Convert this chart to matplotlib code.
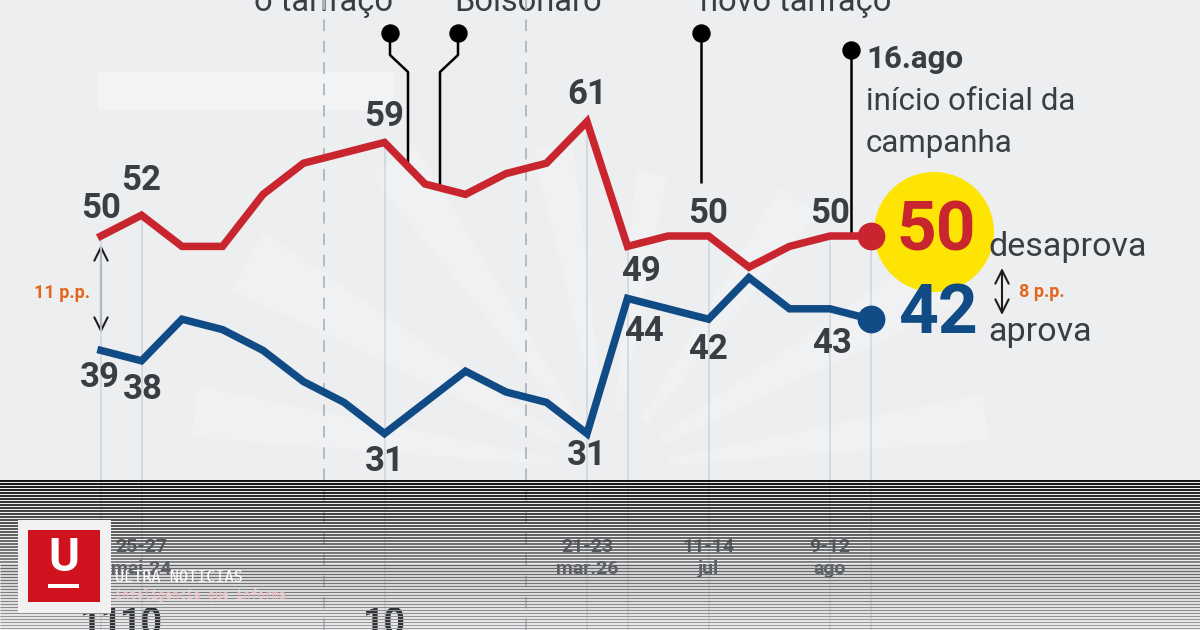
import numpy as np
import matplotlib.pyplot as plt
from matplotlib.patches import Circle, Rectangle, Polygon

# --- data ---
desaprova = [50, 52, 49, 49, 54, 57, 58, 59, 55, 54, 56, 57, 61, 49, 50, 50, 47, 49, 50, 50]
aprova = [39, 38, 42, 41, 39, 36, 34, 31, 34, 37, 35, 34, 31, 44, 43, 42, 46, 43, 43, 42]
labeled = [0, 1, 7, 12, 13, 15, 18]
grid_idx = [0, 1, 7, 12, 13, 15, 18, 19]
year_breaks = [5.5, 10.5]
tick_idx = [1, 12, 15, 18]
tick_labels = ["25-27\nmai.24", "21-23\nmar.26", "11-14\njul", "9-12\nago"]
cut_idx = [0, 1, 7]
cut_labels = ["11", "10", "10"]
events = ["o tarifaço", "Bolsonaro", "novo tarifaço"]

RED = "#c9252e"
BLUE = "#104b86"
TXT = "#3a3d44"
ORANGE = "#e4651c"
BG = "#eceef0"
FONT = ["Roboto", "DejaVu Sans"]

# pixel layout of the value scale
X0, DX = 101, 40.5
Y50, DY = 236, 10.4
W, H = 1200, 630


def vy(py):
    # value that sits at pixel row py
    return 50 + (Y50 - py) / DY


plt.rcParams["font.family"] = FONT
fig = plt.figure(figsize=(12, 6.3), dpi=100, facecolor=BG)

# background / annotations layer (pixel coords)
bg = fig.add_axes([0, 0, 1, 1], zorder=0)
bg.set_xlim(0, W)
bg.set_ylim(H, 0)
bg.axis("off")
bg.set_facecolor(BG)

# faint sunburst rays
cx, cy = 610, 470
for ang, wid, ln in [(100, 7, 330), (125, 8, 380), (150, 9, 420), (172, 7, 420),
                     (55, 8, 330), (30, 9, 380), (8, 7, 380), (82, 6, 300)]:
    a1, a2 = np.radians(ang - wid / 2), np.radians(ang + wid / 2)
    pts = [(cx + 60 * np.cos(a1), cy - 60 * np.sin(a1)),
           (cx + ln * np.cos(a1), cy - ln * np.sin(a1)),
           (cx + ln * np.cos(a2), cy - ln * np.sin(a2)),
           (cx + 60 * np.cos(a2), cy - 60 * np.sin(a2))]
    bg.add_patch(Polygon(pts, closed=True, color="white", alpha=0.2, lw=0))
bg.add_patch(Rectangle((98, 72), 296, 38, color="white", alpha=0.3, lw=0))

# event pins
pin_kw = dict(color="black", lw=1.8, solid_capstyle="butt")
bg.plot([390, 390, 408, 408], [33, 55, 72, 170], **pin_kw)
bg.plot([458, 458, 440, 440], [33, 55, 72, 190], **pin_kw)
bg.plot([701, 701], [33, 183], **pin_kw)
bg.plot([851, 851], [50, 235], **pin_kw)
bg.scatter([390, 458, 701, 851], [33, 33, 33, 50], s=150, color="black", zorder=3)

for txt, px in zip(events, [323, 528, 796]):
    bg.text(px, 11, txt, ha="center", va="baseline", fontsize=23.5, color=TXT)

bg.text(866, 68, "16.ago", fontsize=22.5, fontweight="bold", color=TXT, va="baseline")
bg.text(866, 110, "início oficial da", fontsize=22.5, color=TXT, va="baseline")
bg.text(866, 152, "campanha", fontsize=22.5, color=TXT, va="baseline")

bg.add_patch(Circle((934, 232), 60, color="#fde402", lw=0))
bg.text(988, 256, "desaprova", fontsize=24.5, color=TXT, va="baseline")
bg.text(988, 341, "aprova", fontsize=24.5, color=TXT, va="baseline")

arr = dict(arrowstyle="<->", lw=1.5, color="#1e1e1e", mutation_scale=24,
           shrinkA=0, shrinkB=0)
bg.annotate("", xy=(101, 245), xytext=(101, 333), arrowprops=arr)
bg.annotate("", xy=(1002, 268), xytext=(1002, 315), arrowprops=arr)
bg.text(62, 293, "11 p.p.", ha="center", va="center", fontsize=13,
        fontweight="bold", color=ORANGE)
bg.text(1019, 292, "8 p.p.", ha="left", va="center", fontsize=13,
        fontweight="bold", color=ORANGE)

# --- chart layer ---
ax = fig.add_axes([0, 0, 1, 1], zorder=1)
ax.patch.set_alpha(0)
ax.axis("off")
ax.set_xlim(-X0 / DX, (W - X0) / DX)
ax.set_ylim(vy(H), vy(0))
x = np.arange(len(desaprova))
ybot = vy(H)

for i in grid_idx:
    ax.vlines(i, ybot, desaprova[i], color="#d0d7de", lw=1.2, zorder=1)
for b in year_breaks:
    ax.axvline(b, color="#b3bac3", lw=1.4, ls=(0, (6, 5)), zorder=1)

ax.plot(x, desaprova, color=RED, lw=5.4, solid_joinstyle="miter", zorder=3)
ax.plot(x, aprova, color=BLUE, lw=5.4, solid_joinstyle="miter", zorder=3)
ax.plot(x[-1], desaprova[-1], "o", ms=19, color=RED, zorder=4)
ax.plot(x[-1], aprova[-1], "o", ms=19, color=BLUE, zorder=4)

red_off = [(0, 28), (0, 35), (0, 26), (0, 27), (13, -25), (0, 23), (0, 23)]
blue_off = [(-1, -27), (1, -29), (0, -28), (0, -22), (16, -33), (0, -30), (2, -35)]
lab_kw = dict(textcoords="offset pixels", ha="center", va="center",
              fontsize=25, fontweight="bold", color=TXT, zorder=5)
for i, o in zip(labeled, red_off):
    ax.annotate(str(desaprova[i]), (i, desaprova[i]), xytext=o, **lab_kw)
for i, o in zip(labeled, blue_off):
    ax.annotate(str(aprova[i]), (i, aprova[i]), xytext=o, **lab_kw)

ax.annotate(str(desaprova[-1]), (x[-1], desaprova[-1]), xytext=(66, 4),
            textcoords="offset pixels", ha="center", va="center",
            fontsize=50, fontweight="bold", color=RED, zorder=5)
ax.annotate(str(aprova[-1]), (x[-1], aprova[-1]), xytext=(67, 5),
            textcoords="offset pixels", ha="center", va="center",
            fontsize=50, fontweight="bold", color=BLUE, zorder=5)

for i, t in zip(tick_idx, tick_labels):
    ax.text(i, vy(558), t, ha="center", va="center", fontsize=14,
            fontweight="bold", color="#565c66", linespacing=1.25)
for i, t in zip(cut_idx, cut_labels):
    ax.text(i, vy(606), t, ha="center", va="top", fontsize=27,
            fontweight="bold", color="#25282d")

# --- striped band + logo on top ---
fg = fig.add_axes([0, 0, 1, 1], zorder=2)
fg.set_xlim(0, W)
fg.set_ylim(H, 0)
fg.axis("off")
fg.patch.set_alpha(0)

for yy in np.arange(481, H + 1, 3):
    t = (yy - 480) / 150
    g = 0.08 + 0.55 * t
    fg.hlines(yy, 0, W, color=(g, g, g), lw=(2.0 - 0.9 * t) * 0.72, zorder=1)

fg.add_patch(Rectangle((18, 520), 93, 93, color="#f1f1f1", lw=0, zorder=5))
fg.add_patch(Rectangle((28, 530), 72, 72, color="#d0111e", lw=0, zorder=6))
fg.text(64, 558, "U", ha="center", va="center", fontsize=34,
        fontweight="bold", color="white", zorder=7)
fg.add_patch(Rectangle((48, 584), 31, 4, color="white", lw=0, zorder=7))
fg.text(115, 577, "ULTRA NOTICIAS", fontsize=11, family="DejaVu Sans Mono",
        color="white", va="center", zorder=7)
fg.text(115, 595, "inteligencia que informa", fontsize=8.5,
        family="DejaVu Sans Mono", color="#f3b9c2", va="center", zorder=7)

fig.savefig("out.png", dpi=100, facecolor=BG)
